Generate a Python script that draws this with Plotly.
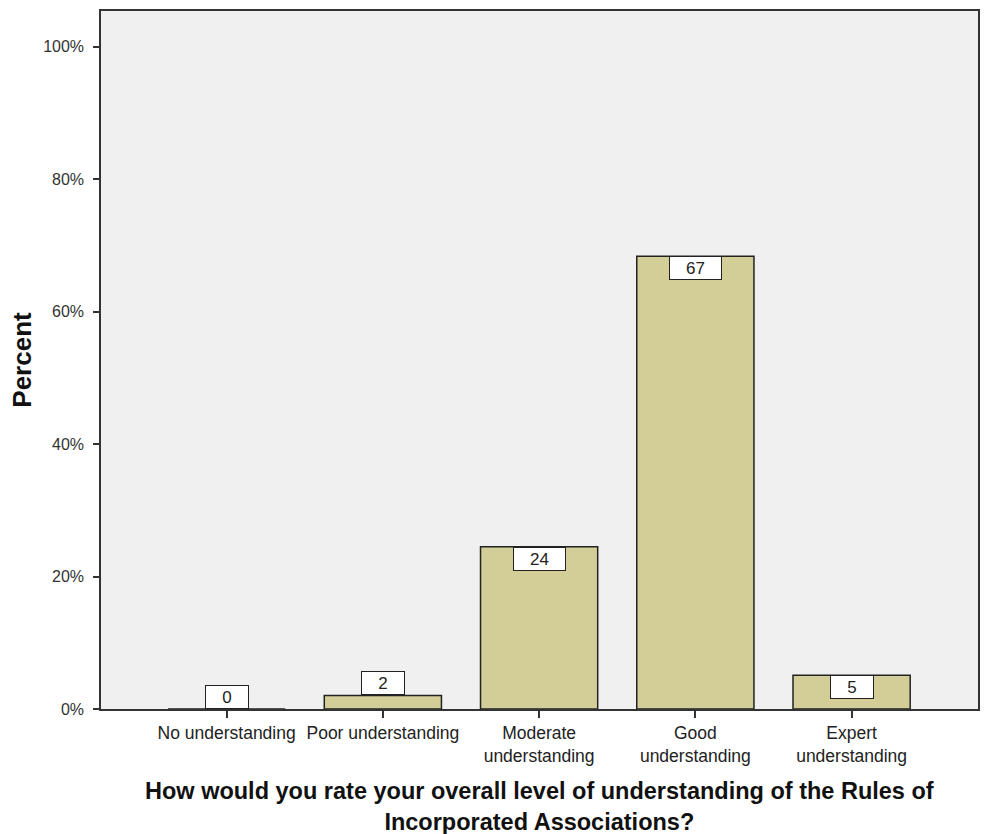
import plotly.graph_objects as go

# Survey responses: understanding of the Rules of Incorporated Associations
categories = ["No understanding", "Poor understanding", "Moderate understanding",
              "Good understanding", "Expert understanding"]
tick_text = ["No understanding", "Poor understanding", "Moderate<br>understanding",
             "Good<br>understanding", "Expert<br>understanding"]
counts = [0, 2, 24, 67, 5]
title_lines = ["How would you rate your overall level of understanding of the Rules of",
               "Incorporated Associations?"]

total = sum(counts)
percents = [c / total * 100 for c in counts]

BAR_COLOR = "#d3ce97"
FONT = "Liberation Sans, Arial, sans-serif"

fig = go.Figure()
fig.add_trace(go.Bar(
    x=categories,
    y=percents,
    width=0.75,
    marker=dict(color=BAR_COLOR, line=dict(color="#222222", width=1.5)),
    hoverinfo="skip",
))

# Count labels in white boxes: inside the bar top, or above it when the bar is short
annotations = []
for cat, pct, cnt in zip(categories, percents, counts):
    label = str(cnt)
    inside = pct >= 4
    annotations.append(dict(
        x=cat, y=pct, xref="x", yref="y",
        text=label, showarrow=False,
        yanchor="top" if inside else "bottom",
        font=dict(family=FONT, size=17, color="#222222"),
        bgcolor="white", bordercolor="#222222", borderwidth=1, borderpad=1,
        width=31 + 9 * len(label), height=20,
    ))

# Two-line x-axis title below the category labels
annotations.append(dict(
    x=0.5, y=-0.1393, xref="paper", yref="paper",
    text="<b>" + "<br>".join(title_lines) + "</b>", showarrow=False,
    xanchor="center", yanchor="middle", align="center",
    font=dict(family=FONT, size=23.5, color="#111111"),
))

fig.update_layout(
    width=989, height=834,
    margin=dict(l=101, r=9, t=9, b=125),
    paper_bgcolor="white",
    plot_bgcolor="#f0f0f0",
    showlegend=False,
    font=dict(family=FONT, size=16, color="#333333"),
    annotations=annotations,
    xaxis=dict(
        range=[-0.804, 4.809],
        tickmode="array", tickvals=categories, ticktext=tick_text,
        ticks="outside", ticklen=7, tickwidth=1.5, tickcolor="#333333",
        showline=True, linecolor="#333333", linewidth=1.5, mirror=True,
        showgrid=False, zeroline=False,
        ticklabelstandoff=0,
        tickfont=dict(family=FONT, size=17.5, color="#222222"),
    ),
    yaxis=dict(
        range=[0, 105.4],
        tickmode="array", tickvals=[0, 20, 40, 60, 80, 100],
        ticktext=["0%", "20%", "40%", "60%", "80%", "100%"],
        ticks="outside", ticklen=6, tickwidth=1.5, tickcolor="#333333",
        showline=True, linecolor="#333333", linewidth=1.5, mirror=True,
        showgrid=False, zeroline=False,
        ticklabelstandoff=6,
        tickfont=dict(family=FONT, size=16, color="#333333"),
        title=dict(
            text="Percent",
            font=dict(family=FONT, size=26, color="#111111", weight="bold"),
            standoff=4,
        ),
    ),
)

fig.write_html("out.html")
